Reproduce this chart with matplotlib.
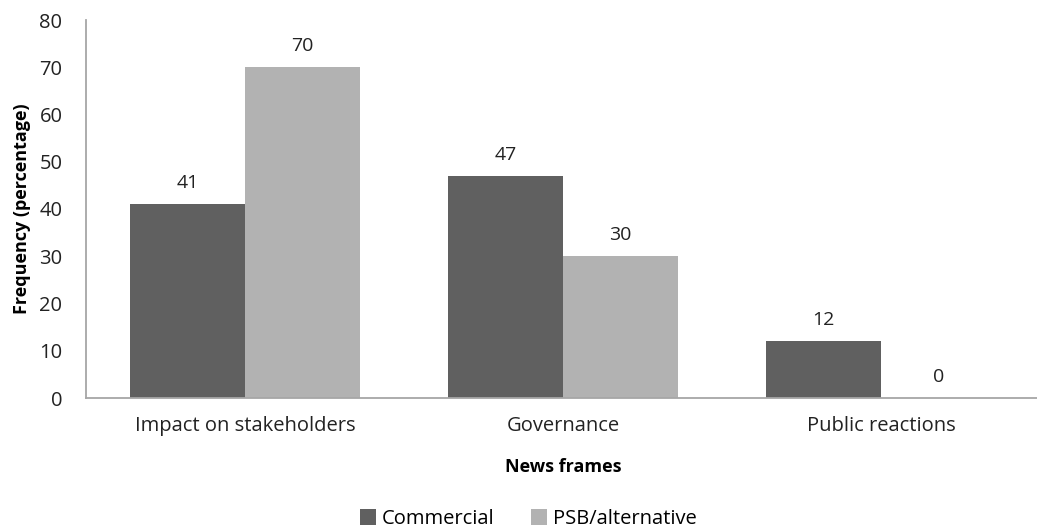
import matplotlib
matplotlib.use("Agg")
import matplotlib.pyplot as plt
import numpy as np

categories = ["Impact on stakeholders", "Governance", "Public reactions"]
commercial = [41, 47, 12]
psb = [70, 30, 0]
series_names = ["Commercial", "PSB/alternative"]
yticks = [0, 10, 20, 30, 40, 50, 60, 70, 80]

plt.rcParams['font.family'] = ['Open Sans', 'DejaVu Sans']

W, H = 1037, 531
fig = plt.figure(figsize=(W/100, H/100), dpi=100)
ax = fig.add_axes([86/W, 1 - 398/H, 954/W, 378/H])

x = np.arange(len(categories))
w = 0.362
c1, c2 = "#606060", "#b2b2b2"
b1 = ax.bar(x - w/2, commercial, w, color=c1, label=series_names[0])
b2 = ax.bar(x + w/2, psb, w, color=c2, label=series_names[1])

for bars, vals in ((b1, commercial), (b2, psb)):
    for r, v in zip(bars, vals):
        ax.text(r.get_x() + r.get_width()/2, v + 2.6, str(v), ha="center", va="bottom",
                fontsize=14, color="#222222")

ax.set_xlim(-0.5, 2.5)
ax.set_ylim(0, 80)
ax.set_yticks(yticks)
ax.set_xticks(x)
ax.set_xticklabels(categories, fontsize=14.5, color="#222222")
ax.tick_params(axis='y', length=0, labelsize=14.5, pad=17, labelcolor="#222222")
ax.tick_params(axis='x', length=0, pad=13)
for s in ("top", "right"):
    ax.spines[s].set_visible(False)
for s in ("left", "bottom"):
    ax.spines[s].set_color("#a6a6a6")
    ax.spines[s].set_linewidth(1.3)

ax.set_xlabel("News frames", fontsize=13, fontweight="bold", labelpad=16)
ax.set_ylabel("Frequency (percentage)", fontsize=13, fontweight="bold", labelpad=6)

fig.legend(handles=[b1, b2], labels=series_names, loc="center",
           bbox_to_anchor=(528/W, 1 - 519/H), bbox_transform=fig.transFigure,
           ncol=2, frameon=False, fontsize=14.5, handlelength=0.8, handleheight=0.8,
           handletextpad=0.3, columnspacing=1.8)

fig.savefig("out.png", dpi=100)
